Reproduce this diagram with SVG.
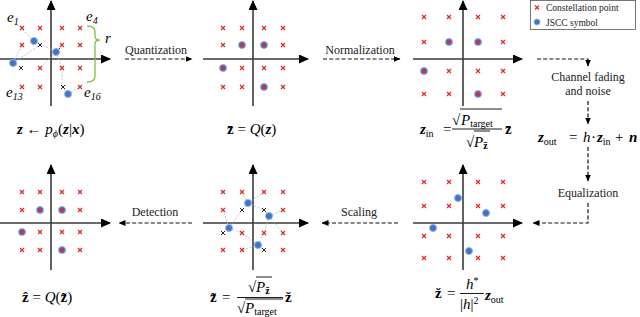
<svg xmlns="http://www.w3.org/2000/svg" xmlns:xlink="http://www.w3.org/1999/xlink" width="640" height="317" viewBox="0 0 640 317">
<defs>
<style>
.ax{stroke:#3a3a3a;stroke-width:1.6;fill:none;marker-end:url(#axh)}
.rx{stroke:#e02828;stroke-width:1.2;fill:none}
.bx{stroke:#222;stroke-width:1;fill:none}
.dot{fill:#4472c4;stroke:#8fb0e6;stroke-width:1}
.gl{stroke:#b8b8b8;stroke-width:0.8;stroke-dasharray:2 1.5;fill:none}
.da{stroke:#111;stroke-width:1.2;stroke-dasharray:4 2.2;fill:none}
.dah{marker-end:url(#dh)}
text{font-family:'Liberation Serif','Times New Roman','DejaVu Serif',serif}
.t{font-size:12px;fill:#222}
.lg{font-size:9.5px;fill:#222}
.m{font-size:15px;fill:#000}
.v{font-weight:bold;font-style:italic}
.b{font-weight:bold}
.i{font-style:italic}
.s{font-size:10px}
.fb{stroke:#000;stroke-width:0.9}
</style>
<marker id="axh" markerUnits="userSpaceOnUse" markerWidth="10" markerHeight="9" refX="9" refY="4.5" orient="auto"><path d="M0,0 L10,4.5 L0,9 z" fill="#000"/></marker>
<marker id="dh" markerUnits="userSpaceOnUse" markerWidth="7" markerHeight="6" refX="6.5" refY="3" orient="auto"><path d="M0,0 L7,3 L0,6 z" fill="#000"/></marker>
<path id="x" d="M-2,-2 L2,2 M2,-2 L-2,2"/>
</defs>
<rect width="640" height="317" fill="#fff"/>

<!-- Panel 1: encoder output -->
<g id="panel-encoder">
<line class="ax" x1="0" y1="59" x2="110" y2="59"/>
<line class="ax" x1="51" y1="106" x2="51" y2="1"/>
<g class="gl">
<line x1="34" y1="41" x2="16" y2="23"/>
<line x1="34" y1="41" x2="56" y2="52"/>
<line x1="56" y1="52" x2="62" y2="45"/>
<line x1="56" y1="52" x2="40" y2="68"/>
<line x1="56" y1="52" x2="62" y2="68"/>
<line x1="13" y1="63" x2="22" y2="45"/>
<line x1="13" y1="63" x2="22" y2="68"/>
<line x1="13" y1="63" x2="40" y2="45"/>
<line x1="68" y1="94" x2="62" y2="87"/>
<line x1="68" y1="94" x2="80" y2="87"/>
<line x1="62" y1="68" x2="62" y2="87"/>
</g>
<g class="rx">
<use xlink:href="#x" x="22" y="28"/><use xlink:href="#x" x="62" y="28"/><use xlink:href="#x" x="80" y="28"/>
<use xlink:href="#x" x="22" y="45"/><use xlink:href="#x" x="62" y="45"/><use xlink:href="#x" x="80" y="45"/>
<use xlink:href="#x" x="40" y="68"/><use xlink:href="#x" x="62" y="68"/><use xlink:href="#x" x="80" y="68"/>
<use xlink:href="#x" x="22" y="87"/><use xlink:href="#x" x="40" y="87"/><use xlink:href="#x" x="80" y="87"/>
<use xlink:href="#x" x="40" y="28"/>
</g>
<g class="bx">
<use xlink:href="#x" x="40" y="45"/><use xlink:href="#x" x="58" y="50"/><use xlink:href="#x" x="21" y="68"/><use xlink:href="#x" x="63" y="87"/>
</g>
<circle class="dot" cx="34" cy="41" r="3.5"/>
<circle class="dot" cx="56" cy="52" r="3.5"/>
<circle class="dot" cx="13" cy="63" r="3.5"/>
<circle class="dot" cx="68" cy="94" r="3.5"/>
<path d="M87,26 Q95,26 95,32 L95,36 Q95,40 100,40 Q95,40 95,44 L95,76 Q95,82 87,82" fill="none" stroke="#7dc242" stroke-width="1.3"/>
<text class="m i" x="7" y="22">e<tspan class="s" dy="3">1</tspan></text>
<text class="m i" x="86" y="21">e<tspan class="s" dy="3">4</tspan></text>
<text class="m i" x="105" y="43">r</text>
<text class="m i" x="6" y="97">e<tspan class="s" dy="3">13</tspan></text>
<text class="m i" x="84" y="97">e<tspan class="s" dy="3">16</tspan></text>
</g>

<!-- Panel 2: quantized -->
<g id="panel-quantized">
<line class="ax" x1="203" y1="59" x2="308" y2="59"/>
<line class="ax" x1="253" y1="106" x2="253" y2="1"/>
<circle class="dot" cx="242" cy="45" r="3.5"/>
<circle class="dot" cx="264" cy="45" r="3.5"/>
<circle class="dot" cx="223" cy="68" r="3.5"/>
<circle class="dot" cx="264" cy="87" r="3.5"/>
<g class="rx">
<use xlink:href="#x" x="223" y="28"/><use xlink:href="#x" x="242" y="28"/><use xlink:href="#x" x="264" y="28"/><use xlink:href="#x" x="283" y="28"/>
<use xlink:href="#x" x="223" y="45"/><use xlink:href="#x" x="242" y="45"/><use xlink:href="#x" x="264" y="45"/><use xlink:href="#x" x="283" y="45"/>
<use xlink:href="#x" x="223" y="68"/><use xlink:href="#x" x="242" y="68"/><use xlink:href="#x" x="264" y="68"/><use xlink:href="#x" x="283" y="68"/>
<use xlink:href="#x" x="223" y="87"/><use xlink:href="#x" x="242" y="87"/><use xlink:href="#x" x="264" y="87"/><use xlink:href="#x" x="283" y="87"/>
</g>
</g>

<!-- Panel 3: normalized -->
<g id="panel-normalized">
<line class="ax" x1="413" y1="59" x2="522" y2="59"/>
<line class="ax" x1="463" y1="106" x2="463" y2="1"/>
<circle class="dot" cx="449" cy="42" r="3.5"/>
<circle class="dot" cx="478" cy="42" r="3.5"/>
<circle class="dot" cx="424" cy="71" r="3.5"/>
<circle class="dot" cx="478" cy="94" r="3.5"/>
<g class="rx">
<use xlink:href="#x" x="424" y="17"/><use xlink:href="#x" x="449" y="17"/><use xlink:href="#x" x="478" y="17"/><use xlink:href="#x" x="503" y="17"/>
<use xlink:href="#x" x="424" y="42"/><use xlink:href="#x" x="449" y="42"/><use xlink:href="#x" x="478" y="42"/><use xlink:href="#x" x="503" y="42"/>
<use xlink:href="#x" x="424" y="71"/><use xlink:href="#x" x="449" y="71"/><use xlink:href="#x" x="478" y="71"/><use xlink:href="#x" x="503" y="71"/>
<use xlink:href="#x" x="424" y="94"/><use xlink:href="#x" x="449" y="94"/><use xlink:href="#x" x="478" y="94"/><use xlink:href="#x" x="503" y="94"/>
</g>
</g>

<!-- Legend -->
<g id="legend">
<rect x="530.5" y="0.5" width="105" height="29" fill="#fff" stroke="#555" stroke-width="0.8"/>
<use class="rx" xlink:href="#x" x="537" y="7.5"/>
<circle class="dot" cx="537" cy="22" r="3"/>
<text class="lg" x="546" y="10.5">Constellation point</text>
<text class="lg" x="546" y="25.5">JSCC symbol</text>
</g>

<!-- Panel 4: received, equalized (bottom right) -->
<g id="panel-equalized">
<line class="ax" x1="413" y1="223" x2="522" y2="223"/>
<line class="ax" x1="463" y1="270" x2="463" y2="165"/>
<g class="rx">
<use xlink:href="#x" x="424" y="182"/><use xlink:href="#x" x="449" y="182"/><use xlink:href="#x" x="478" y="182"/><use xlink:href="#x" x="503" y="182"/>
<use xlink:href="#x" x="424" y="206"/><use xlink:href="#x" x="449" y="206"/><use xlink:href="#x" x="478" y="206"/><use xlink:href="#x" x="503" y="206"/>
<use xlink:href="#x" x="424" y="236"/><use xlink:href="#x" x="449" y="236"/><use xlink:href="#x" x="478" y="236"/><use xlink:href="#x" x="503" y="236"/>
<use xlink:href="#x" x="424" y="258"/><use xlink:href="#x" x="449" y="258"/><use xlink:href="#x" x="478" y="258"/><use xlink:href="#x" x="503" y="258"/>
</g>
<circle class="dot" cx="458" cy="198" r="3.5"/>
<circle class="dot" cx="486" cy="213" r="3.5"/>
<circle class="dot" cx="433" cy="228" r="3.5"/>
<circle class="dot" cx="469" cy="251" r="3.5"/>
</g>

<!-- Panel 5: scaled (bottom middle) -->
<g id="panel-scaled">
<line class="ax" x1="203" y1="223" x2="308" y2="223"/>
<line class="ax" x1="253" y1="270" x2="253" y2="165"/>
<g class="gl">
<line x1="248" y1="203" x2="242" y2="192"/><line x1="248" y1="203" x2="264" y2="192"/><line x1="248" y1="203" x2="242" y2="210"/><line x1="248" y1="203" x2="264" y2="210"/>
<line x1="269" y1="216" x2="264" y2="210"/><line x1="269" y1="216" x2="283" y2="210"/><line x1="269" y1="216" x2="283" y2="233"/><line x1="269" y1="216" x2="264" y2="233"/>
<line x1="229" y1="228" x2="223" y2="210"/><line x1="229" y1="228" x2="242" y2="210"/><line x1="229" y1="228" x2="223" y2="233"/><line x1="229" y1="228" x2="242" y2="233"/>
<line x1="258" y1="245" x2="242" y2="233"/><line x1="258" y1="245" x2="264" y2="233"/><line x1="258" y1="245" x2="242" y2="250"/><line x1="258" y1="245" x2="264" y2="250"/>
</g>
<g class="rx">
<use xlink:href="#x" x="223" y="192"/><use xlink:href="#x" x="242" y="192"/><use xlink:href="#x" x="264" y="192"/><use xlink:href="#x" x="283" y="192"/>
<use xlink:href="#x" x="223" y="210"/><use xlink:href="#x" x="283" y="210"/>
<use xlink:href="#x" x="242" y="233"/><use xlink:href="#x" x="264" y="233"/><use xlink:href="#x" x="283" y="233"/>
<use xlink:href="#x" x="223" y="250"/><use xlink:href="#x" x="242" y="250"/><use xlink:href="#x" x="283" y="250"/>
</g>
<g class="bx">
<use xlink:href="#x" x="242" y="210"/><use xlink:href="#x" x="264" y="210"/><use xlink:href="#x" x="223" y="233"/><use xlink:href="#x" x="264" y="250"/>
</g>
<circle class="dot" cx="248" cy="203" r="3.5"/>
<circle class="dot" cx="269" cy="216" r="3.5"/>
<circle class="dot" cx="229" cy="228" r="3.5"/>
<circle class="dot" cx="258" cy="245" r="3.5"/>
</g>

<!-- Panel 6: detected (bottom left) -->
<g id="panel-detected">
<line class="ax" x1="0" y1="223" x2="110" y2="223"/>
<line class="ax" x1="51" y1="270" x2="51" y2="165"/>
<circle class="dot" cx="40" cy="210" r="3.5"/>
<circle class="dot" cx="62" cy="210" r="3.5"/>
<circle class="dot" cx="22" cy="232" r="3.5"/>
<circle class="dot" cx="62" cy="250" r="3.5"/>
<g class="rx">
<use xlink:href="#x" x="22" y="192"/><use xlink:href="#x" x="40" y="192"/><use xlink:href="#x" x="62" y="192"/><use xlink:href="#x" x="80" y="192"/>
<use xlink:href="#x" x="22" y="210"/><use xlink:href="#x" x="40" y="210"/><use xlink:href="#x" x="62" y="210"/><use xlink:href="#x" x="80" y="210"/>
<use xlink:href="#x" x="22" y="232"/><use xlink:href="#x" x="40" y="232"/><use xlink:href="#x" x="62" y="232"/><use xlink:href="#x" x="80" y="232"/>
<use xlink:href="#x" x="22" y="250"/><use xlink:href="#x" x="40" y="250"/><use xlink:href="#x" x="62" y="250"/><use xlink:href="#x" x="80" y="250"/>
</g>
</g>

<!-- Connectors -->
<g id="connectors">
<line class="da dah" x1="125" y1="59" x2="192" y2="59"/>
<line class="da dah" x1="323" y1="59" x2="400" y2="59"/>
<polyline class="da dah" points="537,59 588,59 588,66"/>
<line class="da dah" x1="588" y1="101" x2="588" y2="124"/>
<line class="da dah" x1="588" y1="147" x2="588" y2="181"/>
<polyline class="da dah" points="588,203 588,223 533,223"/>
<line class="da dah" x1="398" y1="223" x2="322" y2="223"/>
<line class="da dah" x1="192" y1="223" x2="119" y2="223"/>
</g>

<!-- Step labels -->
<g id="labels">
<text class="t" x="156" y="54" text-anchor="middle">Quantization</text>
<text class="t" x="360" y="54" text-anchor="middle">Normalization</text>
<text class="t" x="588" y="81" text-anchor="middle">Channel fading</text>
<text class="t" x="588" y="95" text-anchor="middle">and noise</text>
<text class="t" x="588" y="197" text-anchor="middle">Equalization</text>
<text class="t" x="359" y="216" text-anchor="middle">Scaling</text>
<text class="t" x="155" y="216" text-anchor="middle">Detection</text>
</g>

<!-- Formulas -->
<g id="formulas">
<text class="m" x="17" y="134"><tspan class="v">z</tspan> ← <tspan class="i">p</tspan><tspan class="s i" dy="3">ϕ</tspan><tspan dy="-3">(</tspan><tspan class="v">z</tspan>|<tspan class="v">x</tspan>)</text>
<text class="m" x="227" y="134"><tspan class="b">z̄</tspan> = <tspan class="i">Q</tspan>(<tspan class="v">z</tspan>)</text>

<text class="m" x="420" y="134"><tspan class="v">z</tspan><tspan class="s" dy="3">in</tspan></text>
<text class="m" x="443" y="134">=</text>
<text class="m" x="452" y="125">√</text>
<line class="fb" x1="460" y1="109" x2="502" y2="109"/>
<text class="m" x="461" y="125"><tspan class="i">P</tspan><tspan class="s" dy="2">target</tspan></text>
<line class="fb" x1="452" y1="129" x2="502" y2="129"/>
<text class="m" x="466" y="147">√</text>
<line class="fb" x1="474" y1="131" x2="490" y2="131"/>
<text class="m" x="474" y="147"><tspan class="i">P</tspan><tspan class="s b" dy="2">z̄</tspan></text>
<text class="m b" x="505" y="134">z̄</text>

<text class="m" x="538" y="142"><tspan class="v">z</tspan><tspan class="s" dy="3">out</tspan></text>
<text class="m" x="569" y="142">=</text>
<text class="m i" x="583" y="142">h</text>
<text class="m" x="591" y="142">·</text>
<text class="m" x="597" y="142"><tspan class="v">z</tspan><tspan class="s" dy="3">in</tspan></text>
<text class="m" x="615" y="142">+</text>
<text class="m v" x="629" y="142">n</text>

<text class="m" x="22" y="302"><tspan class="b">ẑ</tspan> = <tspan class="i">Q</tspan>(<tspan class="b">z̃</tspan>)</text>

<text class="m b" x="210" y="302">z̃</text>
<text class="m" x="222" y="302">=</text>
<text class="m" x="248" y="292">√</text>
<line class="fb" x1="256" y1="277" x2="272" y2="277"/>
<text class="m" x="256" y="292"><tspan class="i">P</tspan><tspan class="s b" dy="2">z̄</tspan></text>
<line class="fb" x1="237" y1="297.5" x2="283" y2="297.5"/>
<text class="m" x="237" y="313">√</text>
<line class="fb" x1="245" y1="299" x2="283" y2="299"/>
<text class="m" x="245" y="313"><tspan class="i">P</tspan><tspan class="s" dy="2">target</tspan></text>
<text class="m b" x="285" y="302">ž</text>

<text class="m b" x="435" y="298">ž</text>
<text class="m" x="447" y="298">=</text>
<text class="m" x="466" y="289"><tspan class="i">h</tspan><tspan class="s" dy="-5">*</tspan></text>
<line class="fb" x1="460" y1="293.5" x2="484" y2="293.5"/>
<text class="m" x="460" y="309">|<tspan class="i">h</tspan>|<tspan class="s" dy="-5">2</tspan></text>
<text class="m" x="485" y="300"><tspan class="v">z</tspan><tspan class="s" dy="3">out</tspan></text>
</g>
</svg>
